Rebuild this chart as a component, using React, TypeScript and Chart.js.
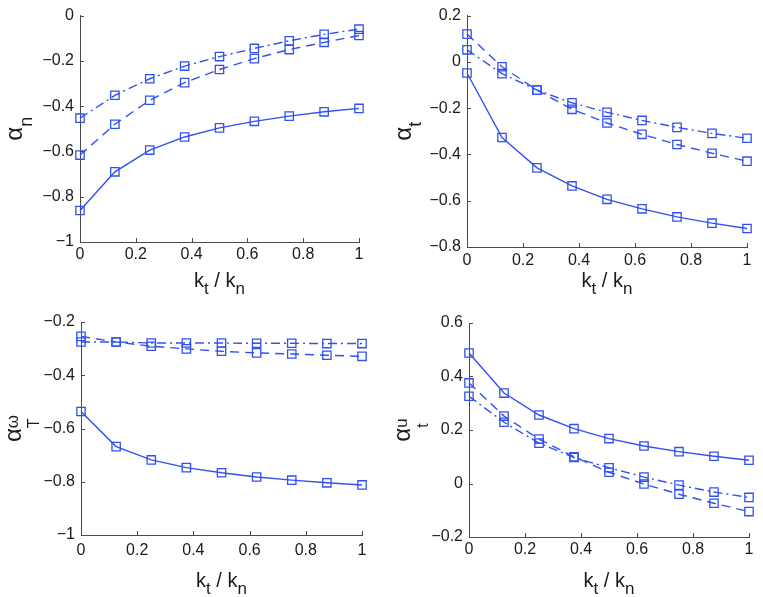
import React, { useEffect, useRef } from "react";
import { Chart, registerables } from "chart.js";
Chart.register(...registerables);

// ---------- data ----------
const xValues = [0, 0.125, 0.25, 0.375, 0.5, 0.625, 0.75, 0.875, 1];
const xTicks = [0, 0.2, 0.4, 0.6, 0.8, 1];

const alphaNSolid = [-0.861, -0.69, -0.594, -0.536, -0.496, -0.467, -0.444, -0.425, -0.41];
const alphaNDashed = [-0.616, -0.48, -0.374, -0.296, -0.238, -0.19, -0.15, -0.118, -0.088];
const alphaNDashDot = [-0.453, -0.352, -0.279, -0.223, -0.181, -0.145, -0.111, -0.083, -0.06];
const alphaNTicks = [-1, -0.8, -0.6, -0.4, -0.2, 0];

const alphaTSolid = [-0.048, -0.327, -0.458, -0.536, -0.594, -0.635, -0.67, -0.697, -0.72];
const alphaTDashed = [0.12, -0.021, -0.122, -0.205, -0.264, -0.313, -0.357, -0.395, -0.429];
const alphaTDashDot = [0.052, -0.051, -0.122, -0.177, -0.218, -0.253, -0.283, -0.309, -0.33];
const alphaTTicks = [-0.8, -0.6, -0.4, -0.2, 0, 0.2];

const alphaOmegaSolid = [-0.536, -0.668, -0.718, -0.747, -0.766, -0.782, -0.794, -0.804, -0.812];
const alphaOmegaDashed = [-0.254, -0.275, -0.291, -0.301, -0.31, -0.316, -0.32, -0.325, -0.329];
const alphaOmegaDashDot = [-0.275, -0.275, -0.279, -0.279, -0.279, -0.28, -0.28, -0.281, -0.281];
const alphaOmegaTicks = [-1, -0.8, -0.6, -0.4, -0.2];

const alphaUSolid = [0.488, 0.338, 0.256, 0.205, 0.168, 0.14, 0.119, 0.102, 0.087];
const alphaUDashed = [0.376, 0.252, 0.166, 0.1, 0.042, -0.002, -0.04, -0.074, -0.105];
const alphaUDashDot = [0.326, 0.229, 0.151, 0.097, 0.059, 0.024, -0.006, -0.032, -0.052];
const alphaUTicks = [-0.2, 0, 0.2, 0.4, 0.6];

// ---------- style ----------
const FONT = '"Liberation Sans", Arial, Helvetica, sans-serif';
const BLUE = "#3150f2";
const AXIS = "#4a4a4a";
const TEXT = "#1a1a1a";

type Item = { text: string; size: number; dy: number };
type Group = Item[];

function drawRich(ctx: CanvasRenderingContext2D, groups: Group[]) {
  const widths = groups.map((g) =>
    Math.max(
      ...g.map((it) => {
        ctx.font = `${it.size}px ${FONT}`;
        return ctx.measureText(it.text).width;
      })
    )
  );
  const total = widths.reduce((a, b) => a + b, 0);
  let x = -total / 2;
  ctx.textAlign = "left";
  ctx.textBaseline = "alphabetic";
  groups.forEach((g, i) => {
    g.forEach((it) => {
      ctx.font = `${it.size}px ${FONT}`;
      ctx.fillText(it.text, x, it.dy);
    });
    x += widths[i];
  });
}

const xLabelGroups: Group[] = [
  [{ text: "k", size: 20, dy: 0 }],
  [{ text: "t", size: 17, dy: 7 }],
  [{ text: " / ", size: 20, dy: 0 }],
  [{ text: "k", size: 20, dy: 0 }],
  [{ text: "n", size: 17, dy: 7 }],
];

function fmt(v: number) {
  const r = Math.round(v * 10) / 10;
  if (r === 0) return "0";
  const s = Math.abs(r).toString();
  return r < 0 ? "\u2212" + s : s;
}

type Panel = {
  left: number;
  top: number;
  w: number;
  h: number;
  plotLeft: number;
  plotRight: number;
  plotTop: number;
  plotBottom: number;
  yLabelX: number;
  xPad: number;
  ticks: number[];
  solid: number[];
  dashed: number[];
  dashdot: number[];
  yLabel: Group[];
};

const panels: Panel[] = [
  {
    left: 0, top: 0, w: 380, h: 300,
    plotLeft: 80, plotRight: 359, plotTop: 14, plotBottom: 242,
    yLabelX: 22, xPad: 3,
    ticks: alphaNTicks, solid: alphaNSolid, dashed: alphaNDashed, dashdot: alphaNDashDot,
    yLabel: [[{ text: "α", size: 24, dy: 0 }], [{ text: "n", size: 18, dy: 10 }]],
  },
  {
    left: 380, top: 0, w: 383, h: 300,
    plotLeft: 87, plotRight: 367, plotTop: 14, plotBottom: 247,
    yLabelX: 31, xPad: 4,
    ticks: alphaTTicks, solid: alphaTSolid, dashed: alphaTDashed, dashdot: alphaTDashDot,
    yLabel: [[{ text: "α", size: 24, dy: 0 }], [{ text: "t", size: 18, dy: 10 }]],
  },
  {
    left: 0, top: 300, w: 380, h: 297,
    plotLeft: 81, plotRight: 362, plotTop: 22, plotBottom: 235,
    yLabelX: 21, xPad: 6,
    ticks: alphaOmegaTicks, solid: alphaOmegaSolid, dashed: alphaOmegaDashed, dashdot: alphaOmegaDashDot,
    yLabel: [
      [{ text: "α", size: 24, dy: 0 }],
      [
        { text: "ω", size: 17, dy: -3 },
        { text: "T", size: 16, dy: 18 },
      ],
    ],
  },
  {
    left: 380, top: 300, w: 383, h: 297,
    plotLeft: 89, plotRight: 369, plotTop: 23, plotBottom: 237,
    yLabelX: 30, xPad: 3,
    ticks: alphaUTicks, solid: alphaUSolid, dashed: alphaUDashed, dashdot: alphaUDashDot,
    yLabel: [
      [{ text: "α", size: 24, dy: 0 }],
      [
        { text: "u", size: 17, dy: -3 },
        { text: "t", size: 16, dy: 18 },
      ],
    ],
  },
];

function PanelChart({ p }: { p: Panel }) {
  const ref = useRef<HTMLCanvasElement | null>(null);
  useEffect(() => {
    if (!ref.current) return;
    const mk = (data: number[], dash: number[]) => ({
      data: xValues.map((x, i) => ({ x, y: data[i] })),
      borderColor: BLUE,
      borderWidth: 1.4,
      borderDash: dash,
      pointStyle: "rect" as const,
      pointRadius: 5.9,
      pointBorderWidth: 1.3,
      pointBorderColor: BLUE,
      pointBackgroundColor: "rgba(0,0,0,0)",
      tension: 0,
      clip: false as any,
      fill: false,
    });
    const decor = {
      id: "decor",
      afterDraw(chart: any) {
        const ctx: CanvasRenderingContext2D = chart.ctx;
        const a = chart.chartArea;
        const xs = chart.scales.x;
        const ys = chart.scales.y;
        ctx.save();
        ctx.strokeStyle = AXIS;
        ctx.lineWidth = 1;
        ctx.beginPath();
        xTicks.forEach((v) => {
          const px = Math.round(xs.getPixelForValue(v)) + 0.5;
          ctx.moveTo(px, a.bottom);
          ctx.lineTo(px, a.bottom - 4);
        });
        p.ticks.forEach((v) => {
          const py = Math.round(ys.getPixelForValue(v)) + 0.5;
          ctx.moveTo(a.left, py);
          ctx.lineTo(a.left + 4, py);
        });
        ctx.stroke();
        ctx.fillStyle = TEXT;
        // x label
        ctx.save();
        ctx.translate((a.left + a.right) / 2, 287);
        drawRich(ctx, xLabelGroups);
        ctx.restore();
        // y label
        ctx.save();
        ctx.translate(p.yLabelX, (a.top + a.bottom) / 2);
        ctx.rotate(-Math.PI / 2);
        drawRich(ctx, p.yLabel);
        ctx.restore();
        ctx.restore();
      },
    };
    const chart = new Chart(ref.current, {
      type: "line",
      data: {
        datasets: [mk(p.solid, []), mk(p.dashed, [9, 6]), mk(p.dashdot, [9, 4, 2, 4])],
      },
      options: {
        animation: false,
        responsive: false,
        maintainAspectRatio: false,
        layout: { padding: { left: 0, top: p.plotTop, right: p.w - p.plotRight, bottom: 0 } },
        plugins: { legend: { display: false }, tooltip: { enabled: false } },
        scales: {
          x: {
            type: "linear",
            min: 0,
            max: 1,
            afterFit: (s: any) => {
              s.height = p.h - p.plotBottom;
            },
            afterBuildTicks: (s: any) => {
              s.ticks = xTicks.map((v) => ({ value: v }));
            },
            ticks: {
              padding: p.xPad,
              color: TEXT,
              font: { family: FONT, size: 16 },
              maxRotation: 0,
              autoSkip: false,
              callback: (v: any) => fmt(Number(v)),
            },
            grid: { drawOnChartArea: false, drawTicks: false },
            border: { display: true, color: AXIS, width: 1 },
          },
          y: {
            type: "linear",
            min: p.ticks[0],
            max: p.ticks[p.ticks.length - 1],
            afterFit: (s: any) => {
              s.width = p.plotLeft;
            },
            afterBuildTicks: (s: any) => {
              s.ticks = p.ticks.map((v) => ({ value: v }));
            },
            ticks: {
              padding: 6,
              color: TEXT,
              font: { family: FONT, size: 16 },
              autoSkip: false,
              callback: (v: any) => fmt(Number(v)),
            },
            grid: { drawOnChartArea: false, drawTicks: false },
            border: { display: true, color: AXIS, width: 1 },
          },
        },
      },
      plugins: [decor],
    });
    return () => chart.destroy();
  }, [p]);
  return (
    <canvas
      ref={ref}
      width={p.w}
      height={p.h}
      style={{ position: "absolute", left: p.left, top: p.top, width: p.w, height: p.h }}
    />
  );
}

export default function App() {
  return (
    <div style={{ position: "absolute", left: 0, top: 0, width: 763, height: 597, background: "#fff" }}>
      {panels.map((p, i) => (
        <PanelChart key={i} p={p} />
      ))}
    </div>
  );
}
